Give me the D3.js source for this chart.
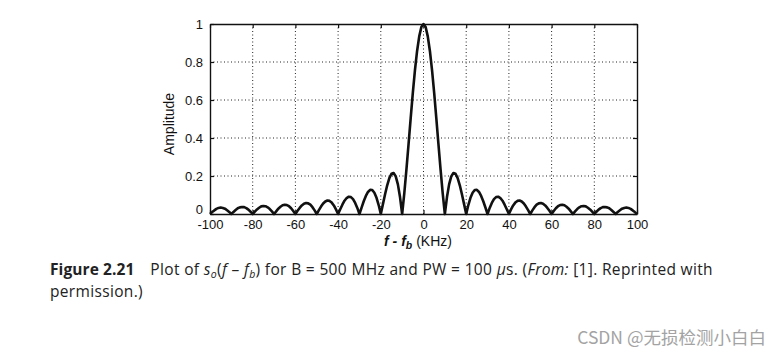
<!DOCTYPE html>
<html><head><meta charset="utf-8">
<script src="https://cdn.jsdelivr.net/npm/d3@7"></script>
<style>
html,body{margin:0;padding:0;background:#fff;}
svg{display:block;}
</style></head>
<body>
<svg id="chart" width="780" height="357"></svg>
<script>
// ---- data ----
const xTicks = [-100,-80,-60,-40,-20,0,20,40,60,80,100];
const xTickLabels = ["-100","-80","-60","-40","-20","0","20","40","60","80","100"];
const yTicks = [0,0.2,0.4,0.6,0.8,1];
const yTickLabels = ["0","0.2","0.4","0.6","0.8","1"];
const freqKHz = d3.range(-100, 101, 1);
const amplitude = [
0,0.010,0.019,0.027,0.032,0.034,0.032,0.028,0.020,0.011,
0,0.011,0.021,0.030,0.035,0.037,0.036,0.031,0.023,0.012,
0,0.012,0.024,0.033,0.040,0.042,0.041,0.035,0.026,0.014,
0,0.014,0.028,0.038,0.046,0.049,0.047,0.041,0.030,0.016,
0,0.017,0.032,0.045,0.054,0.058,0.056,0.049,0.036,0.019,
0,0.020,0.039,0.055,0.066,0.071,0.069,0.060,0.045,0.024,
0,0.025,0.049,0.070,0.084,0.091,0.089,0.078,0.058,0.032,
0,0.034,0.067,0.095,0.116,0.127,0.126,0.112,0.085,0.047,
0,0.052,0.104,0.151,0.189,0.212,0.216,0.198,0.156,0.089,
0,0.109,0.234,0.368,0.505,0.637,0.757,0.858,0.935,0.984,
1.000,
0.984,0.935,0.858,0.757,0.637,0.505,0.368,0.234,0.109,0,
0.089,0.156,0.198,0.216,0.212,0.189,0.151,0.104,0.052,0,
0.047,0.085,0.112,0.126,0.127,0.116,0.095,0.067,0.034,0,
0.032,0.058,0.078,0.089,0.091,0.084,0.070,0.049,0.025,0,
0.024,0.045,0.060,0.069,0.071,0.066,0.055,0.039,0.020,0,
0.019,0.036,0.049,0.056,0.058,0.054,0.045,0.032,0.017,0,
0.016,0.030,0.041,0.047,0.049,0.046,0.038,0.028,0.014,0,
0.014,0.026,0.035,0.041,0.042,0.040,0.033,0.024,0.012,0,
0.012,0.023,0.031,0.036,0.037,0.035,0.030,0.021,0.011,0,
0.011,0.020,0.028,0.032,0.034,0.032,0.027,0.019,0.010,0
];

// ---- layout ----
const svg = d3.select("#chart");
const L = 210, R = 637, T = 24, B = 214;
const x = d3.scaleLinear().domain([-100,100]).range([L,R]);
const y = d3.scaleLinear().domain([0,1]).range([B,T]);

const ink = "#111";
const tickFont = "Liberation Sans, Arial, sans-serif";

// grid
const grid = svg.append("g");
grid.selectAll("line.gx").data(xTicks.slice(1,-1)).enter().append("line")
  .attr("x1",d=>x(d)).attr("x2",d=>x(d)).attr("y1",T).attr("y2",B)
  .attr("stroke","#222").attr("stroke-width",1).attr("stroke-dasharray","1,2.5");
grid.selectAll("line.gy").data(yTicks.slice(1,-1)).enter().append("line")
  .attr("x1",L).attr("x2",R).attr("y1",d=>y(d)).attr("y2",d=>y(d))
  .attr("stroke","#222").attr("stroke-width",1).attr("stroke-dasharray","1,2.5");

// axes with inward ticks (box style)
const axB = d3.axisBottom(x).tickValues(xTicks).tickSizeInner(-4).tickSizeOuter(0).tickPadding(6)
  .tickFormat((d,i)=>xTickLabels[i]);
const axT = d3.axisTop(x).tickValues(xTicks).tickSizeInner(-4).tickSizeOuter(0).tickFormat("");
const axL = d3.axisLeft(y).tickValues(yTicks).tickSizeInner(-4).tickSizeOuter(0).tickPadding(7)
  .tickFormat((d,i)=>yTickLabels[i]);
const axR = d3.axisRight(y).tickValues(yTicks).tickSizeInner(-4).tickSizeOuter(0).tickFormat("");

function styleAxis(g){
  g.select(".domain").attr("stroke",ink).attr("stroke-width",1.4);
  g.selectAll(".tick line").attr("stroke",ink).attr("stroke-width",1.2);
  g.selectAll(".tick text").attr("fill","#111").attr("font-family",tickFont).attr("font-size",13);
}
svg.append("g").attr("transform",`translate(0,${B})`).call(axB).call(styleAxis);
svg.append("g").attr("transform",`translate(0,${T})`).call(axT).call(styleAxis);
const gL = svg.append("g").attr("transform",`translate(${L},0)`).call(axL).call(styleAxis);
gL.selectAll(".tick text").filter(d=>d===0).attr("dy","-0.02em");
svg.append("g").attr("transform",`translate(${R},0)`).call(axR).call(styleAxis);

// curve
const line = d3.line().x((d,i)=>x(freqKHz[i])).y(d=>y(d)).curve(d3.curveLinear);
svg.append("path").datum(amplitude).attr("d",line)
  .attr("fill","none").attr("stroke","#111").attr("stroke-width",2.6)
  .attr("stroke-linejoin","round");

// y axis title
svg.append("text").attr("transform",`translate(174,124) rotate(-90)`)
  .attr("text-anchor","middle").attr("font-family",tickFont).attr("font-size",14)
  .attr("fill","#111").text("Amplitude");

// x axis title
const xt = svg.append("text").attr("x",418).attr("y",246).attr("text-anchor","middle")
  .attr("font-family",tickFont).attr("font-size",14).attr("fill","#111");
xt.append("tspan").attr("font-weight","bold").attr("font-style","italic").text("f - f");
xt.append("tspan").attr("font-weight","bold").attr("font-style","italic").attr("font-size",10.5).attr("dy",3).text("b");
xt.append("tspan").attr("dy",-3).text(" (KHz)");

// caption
const capFont = "'Open Sans', Lato, sans-serif";
const capSize = 15.5;
const capSpacing = 0.34;
const c1 = svg.append("text").attr("x",50).attr("y",275).attr("font-family",capFont)
  .attr("font-size",capSize).attr("letter-spacing",capSpacing).attr("fill","#222");
c1.append("tspan").attr("font-weight","bold").attr("letter-spacing",0.1).text("Figure 2.21");
c1.append("tspan").text("\u2003Plot of ");
c1.append("tspan").attr("font-style","italic").text("s");
c1.append("tspan").attr("font-style","italic").attr("font-size",10.5).attr("dy",3).text("o");
c1.append("tspan").attr("dy",-3).text("(");
c1.append("tspan").attr("font-style","italic").text("f");
c1.append("tspan").text(" \u2013 ");
c1.append("tspan").attr("font-style","italic").text("f");
c1.append("tspan").attr("font-style","italic").attr("font-size",10.5).attr("dy",3).text("b");
c1.append("tspan").attr("dy",-3).text(") for B = 500 MHz and PW = 100 ");
c1.append("tspan").attr("font-style","italic").text("\u03bc");
c1.append("tspan").text("s. (");
c1.append("tspan").attr("font-style","italic").text("From:");
c1.append("tspan").text(" [1]. Reprinted with");
svg.append("text").attr("x",50).attr("y",296.5).attr("font-family",capFont)
  .attr("font-size",capSize).attr("letter-spacing",capSpacing).attr("fill","#222").text("permission.)");

// watermark
svg.append("text").attr("x",766).attr("y",344).attr("text-anchor","end")
  .attr("font-family","'Noto Sans CJK SC', sans-serif").attr("font-size",17.5)
  .attr("fill","#a3a3a3").text("CSDN @无损检测小白白");
</script>
</body></html>
